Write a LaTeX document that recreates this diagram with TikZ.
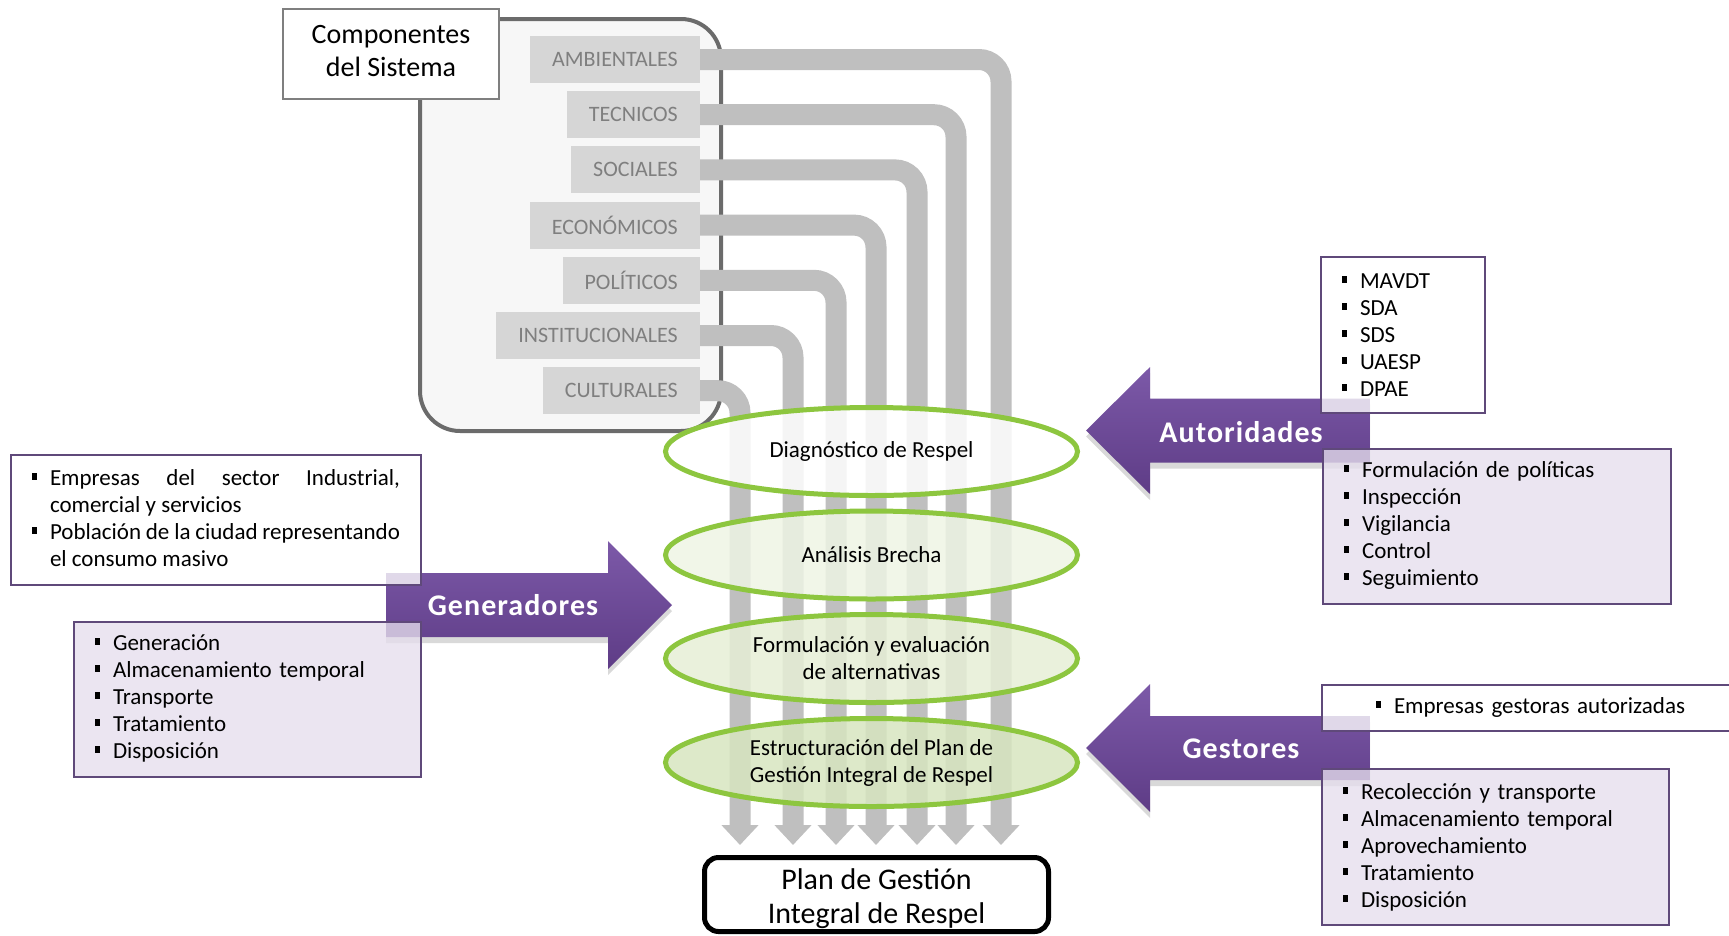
\documentclass[tikz,border=0pt]{standalone}
\usepackage{fontspec}
\setmainfont{Carlito}
\newfontfamily\arrowfont[LetterSpace=3.5]{Carlito}
\usetikzlibrary{arrows.meta,shapes.geometric,shadows}
\definecolor{pipegray}{HTML}{BFBFBF}
\definecolor{labfill}{HTML}{D6D6D6}
\definecolor{labtext}{HTML}{7F7F7F}
\definecolor{sysborder}{HTML}{6B6B6B}
\definecolor{sysfill}{HTML}{F7F7F7}
\definecolor{elgreen}{HTML}{8DC63F}
\definecolor{elfillB}{HTML}{EEF4E4}
\definecolor{elfillC}{HTML}{E6EFD6}
\definecolor{elfillD}{HTML}{D7E5BF}
\definecolor{purtop}{HTML}{7C59A8}
\definecolor{purbot}{HTML}{5E3C86}
\definecolor{boxpur}{HTML}{5F497A}
\definecolor{lav}{HTML}{E5DEED}
\newcommand\sqb{\rule[0.23em]{0.22em}{0.28em}}
\newcommand\itm[1]{\par\hangindent=18pt\hangafter=1\noindent\makebox[18pt][l]{\sqb}#1}
\newcommand\listsetup{\hyphenpenalty=10000\exhyphenpenalty=10000\tolerance=10000\hbadness=10000}
\begin{document}
\begin{tikzpicture}[x=1pt,y=-1pt,
  lab/.style={fill=labfill, text=labtext, anchor=east, inner xsep=22pt, inner ysep=0pt, minimum height=47pt, font=\fontsize{22}{26}\selectfont},
  pipe/.style={draw=pipegray, line width=21pt, rounded corners=22pt, -{Triangle[width=36pt,length=20pt]}},
  stage/.style={ellipse, draw=elgreen, line width=5pt, minimum width=412pt, minimum height=88pt, inner sep=0pt, align=center, font=\fontsize{23}{27}\selectfont, fill opacity=0.85, text opacity=1},
  listbox/.style={draw=boxpur, line width=1.5pt, anchor=north west, outer sep=0pt, inner xsep=21pt, inner ysep=0pt, align=left, font=\fontsize{23}{27}\selectfont, fill opacity=0.78, text opacity=1, text height=0pt},
  bigarrow/.style={top color=purtop, bottom color=purbot, drop shadow={opacity=0.3, shadow xshift=0pt, shadow yshift=-6pt}},
  arrowtext/.style={text=white, font=\arrowfont\fontsize{30}{36}\selectfont\bfseries}
]
\useasboundingbox (0,0) rectangle (1729,935);

% system components container
\node[draw=sysborder, line width=4pt, fill=sysfill, rounded corners=40pt, minimum width=301pt, minimum height=412pt, inner sep=0pt] (sys) at (570.5,225) {};
\node[draw=labtext, line width=1.5pt, fill=white, minimum width=216pt, minimum height=90pt, inner sep=0pt, align=center, font=\fontsize{28}{33}\selectfont] (comp) at (391,54) {Componentes\\del Sistema\rule[-6pt]{0pt}{6pt}};

% component labels
\node[lab] (amb) at (700,59.5) {AMBIENTALES};
\node[lab] (tec) at (700,114.7) {TECNICOS};
\node[lab] (soc) at (700,169.9) {SOCIALES};
\node[lab] (eco) at (700,225.1) {ECONÓMICOS};
\node[lab] (pol) at (700,280.3) {POLÍTICOS};
\node[lab] (ins) at (700,335.5) {INSTITUCIONALES};
\node[lab] (cul) at (700,390.7) {CULTURALES};

% pipe ends
\coordinate (t1) at (1001,845);
\coordinate (t2) at (956,845);
\coordinate (t3) at (917,845);
\coordinate (t4) at (876,845);
\coordinate (t5) at (836,845);
\coordinate (t6) at (793,845);
\coordinate (t7) at (740,845);

\draw[pipe] (amb.east) -| (t1);
\draw[pipe] (tec.east) -| (t2);
\draw[pipe] (soc.east) -| (t3);
\draw[pipe] (eco.east) -| (t4);
\draw[pipe] (pol.east) -| (t5);
\draw[pipe] (ins.east) -| (t6);
\draw[pipe] (cul.east) -| (t7);

% stages
\node[stage, fill=white] (diag) at (871.5,451.5) {Diagnóstico de Respel};
\node[stage, fill=elfillB] (anal) at (871.5,555) {Análisis Brecha};
\node[stage, fill=elfillC] (form) at (871.5,658.5) {Formulación y evaluación\\de alternativas};
\node[stage, fill=elfillD] (estr) at (871.5,762.5) {Estructuración del Plan de\\Gestión Integral de Respel};

% final plan
\node[draw=black, line width=5pt, rounded corners=14pt, fill=white, minimum width=344pt, minimum height=74pt, inner sep=0pt, align=center, font=\fontsize{30}{34}\selectfont] (plan) at (876.5,894.5) {\rule{0pt}{29pt}Plan de Gestión\\Integral de Respel};

% big arrows
\path[bigarrow] (386,573) -- (608,573) -- (608,541) -- (672,605) -- (608,669) -- (608,637) -- (386,637) -- cycle;
\path[bigarrow] (1370,398.5) -- (1150,398.5) -- (1150,367) -- (1086,430.5) -- (1150,494) -- (1150,462.5) -- (1370,462.5) -- cycle;
\path[bigarrow] (1370,716) -- (1150,716) -- (1150,684) -- (1086,748) -- (1150,812) -- (1150,780) -- (1370,780) -- cycle;

% list boxes
\node[listbox, fill=white, text width=368pt, minimum height=130pt, text depth=124pt, align=justify] (genA) at (11,455)
 {\listsetup\itm{Empresas del sector Industrial,\linebreak comercial y servicios}\itm{Población de la ciudad representando\linebreak el consumo masivo}\par};
\node[listbox, fill=lav, text width=305pt, minimum height=155pt, text depth=153pt] (genB) at (74,622)
 {\listsetup\itm{Generación}\itm{Almacenamiento temporal}\itm{Transporte}\itm{Tratamiento}\itm{Disposición}\par};
\node[listbox, fill=white, text width=122pt, minimum height=156pt, text depth=148pt] (autA) at (1321,257)
 {\listsetup\itm{MAVDT}\itm{SDA}\itm{SDS}\itm{UAESP}\itm{DPAE}\par};
\node[listbox, fill=lav, text width=306pt, minimum height=155pt, text depth=153pt] (autB) at (1323,449)
 {\listsetup\itm{Formulación de políticas}\itm{Inspección}\itm{Vigilancia}\itm{Control}\itm{Seguimiento}\par};
\node[listbox, fill=white, inner xsep=54pt, text width=322pt, minimum height=46pt, text depth=44pt] (gesA) at (1322,685)
 {\listsetup\itm{Empresas gestoras autorizadas}\par};
\node[listbox, fill=lav, text width=305pt, minimum height=156pt, text depth=150pt] (gesB) at (1322,769)
 {\listsetup\itm{Recolección y transporte}\itm{Almacenamiento temporal}\itm{Aprovechamiento}\itm{Tratamiento}\itm{Disposición}\par};

% arrow labels
\node[arrowtext] (gen) at (513,605) {Generadores};
\node[arrowtext] (aut) at (1241,432) {Autoridades};
\node[arrowtext] (ges) at (1241,749) {Gestores};
\end{tikzpicture}
\end{document}
